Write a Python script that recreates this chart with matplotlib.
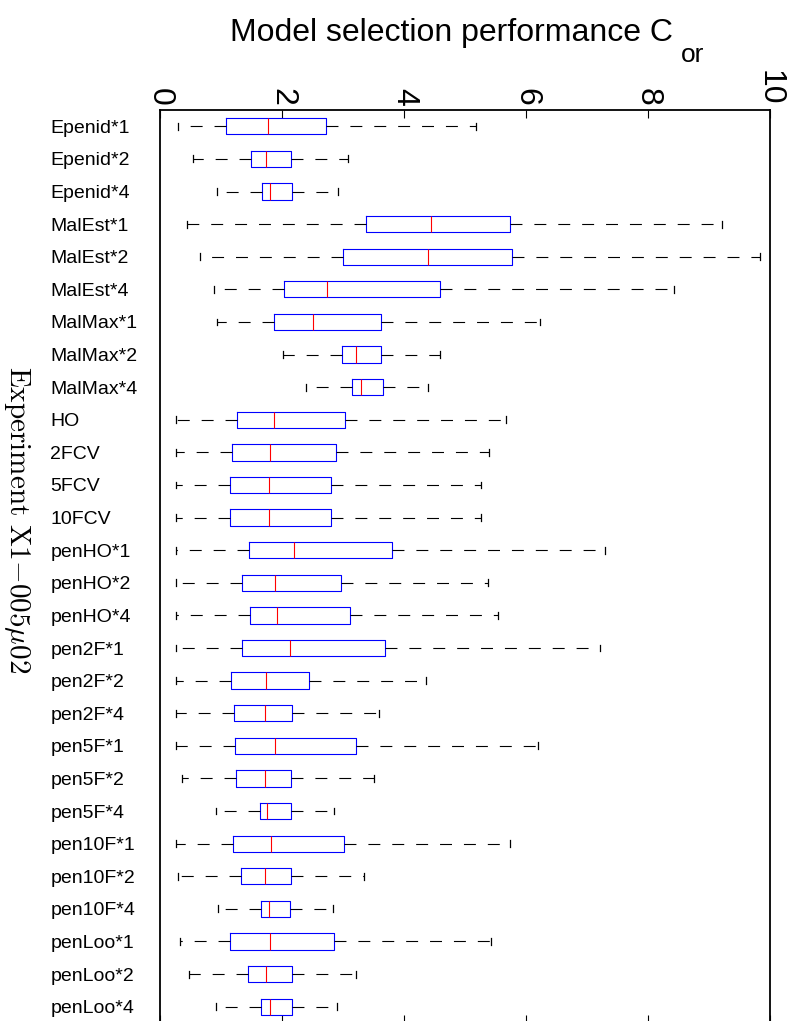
import matplotlib
matplotlib.use("Agg")
import matplotlib.pyplot as plt

plt.rcParams["font.family"] = ["Liberation Sans", "DejaVu Sans"]
plt.rcParams["mathtext.fontset"] = "cm"
plt.rcParams["lines.scale_dashes"] = False

names = ["Epenid*1", "Epenid*2", "Epenid*4", "MalEst*1", "MalEst*2", "MalEst*4",
         "MalMax*1", "MalMax*2", "MalMax*4", "HO", "2FCV", "5FCV", "10FCV",
         "penHO*1", "penHO*2", "penHO*4", "pen2F*1", "pen2F*2", "pen2F*4",
         "pen5F*1", "pen5F*2", "pen5F*4", "pen10F*1", "pen10F*2", "pen10F*4",
         "penLoo*1", "penLoo*2", "penLoo*4"]
whislo = [0.30, 0.54, 0.93, 0.44, 0.66, 0.89, 0.93, 2.01, 2.40, 0.26, 0.27, 0.26, 0.26,
          0.26, 0.26, 0.26, 0.27, 0.27, 0.27, 0.26, 0.36, 0.91, 0.26, 0.29, 0.95,
          0.32, 0.47, 0.92]
q1 = [1.09, 1.49, 1.67, 3.38, 3.00, 2.03, 1.87, 2.98, 3.15, 1.27, 1.18, 1.15, 1.15,
      1.46, 1.34, 1.48, 1.34, 1.17, 1.22, 1.23, 1.25, 1.64, 1.19, 1.33, 1.66,
      1.15, 1.45, 1.66]
med = [1.77, 1.73, 1.80, 4.44, 4.39, 2.73, 2.50, 3.22, 3.29, 1.87, 1.81, 1.79, 1.79,
       2.20, 1.88, 1.91, 2.13, 1.73, 1.72, 1.89, 1.72, 1.76, 1.82, 1.72, 1.78,
       1.80, 1.73, 1.81]
q3 = [2.72, 2.14, 2.17, 5.73, 5.77, 4.59, 3.62, 3.62, 3.65, 3.04, 2.89, 2.80, 2.81,
      3.80, 2.97, 3.11, 3.69, 2.44, 2.17, 3.22, 2.15, 2.14, 3.02, 2.14, 2.13,
      2.86, 2.16, 2.17]
whishi = [5.18, 3.09, 2.91, 9.22, 9.84, 8.43, 6.23, 4.59, 4.39, 5.67, 5.40, 5.26, 5.26,
          7.30, 5.38, 5.54, 7.21, 4.36, 3.59, 6.20, 3.50, 2.86, 5.74, 3.34, 2.84,
          5.43, 3.22, 2.90]

stats = [dict(label=n, whislo=a, q1=b, med=c, q3=d, whishi=e, fliers=[])
         for n, a, b, c, d, e in zip(names, whislo, q1, med, q3, whishi)]
pos = list(range(1, len(names) + 1))

W, H = 792, 1021
fig = plt.figure(figsize=(W / 100, H / 100), dpi=100)
# axes runs a little past the bottom edge, as in the original
ax = fig.add_axes([160 / W, (H - 1023) / H, 610 / W, 913 / H])

ax.bxp(stats, positions=pos, widths=0.5, capwidths=0.21, orientation="horizontal",
       showfliers=False,
       boxprops=dict(color="#0000ff", lw=0.8),
       medianprops=dict(color="#ff0000", lw=0.8),
       whiskerprops=dict(color="k", lw=0.8, linestyle=(0, (8.6, 8.6))),
       capprops=dict(color="k", lw=0.9))

ax.set_xlim(0, 10)
ax.set_ylim(len(names) + 0.5, 0.5)
ax.set_xticks([0, 2, 4, 6, 8, 10])
ax.tick_params(axis="x", direction="in", length=6, width=0.8, top=True, bottom=True,
               labeltop=True, labelbottom=False, labelsize=23, pad=3)
for t in ax.get_xticklabels():
    t.set_rotation(-90)
ax.set_yticks(pos)
ax.set_yticklabels(names, fontsize=14, ha="left")
ax.tick_params(axis="y", length=0, pad=79)
for s in ax.spines.values():
    s.set_linewidth(1.3)

fig.text(230 / W, 1 - 41 / H, "Model selection performance C",
         fontsize=23, ha="left", va="baseline")
fig.text(681 / W, 1 - 62 / H, "or", fontsize=19, ha="left", va="baseline")
fig.text(17 / W, 1 - 520 / H, r"$\mathrm{Experiment\ X1{-}005}\mu\mathrm{02}$",
         fontsize=21, rotation=-90, ha="center", va="center")

fig.savefig("out.png", dpi=100)
